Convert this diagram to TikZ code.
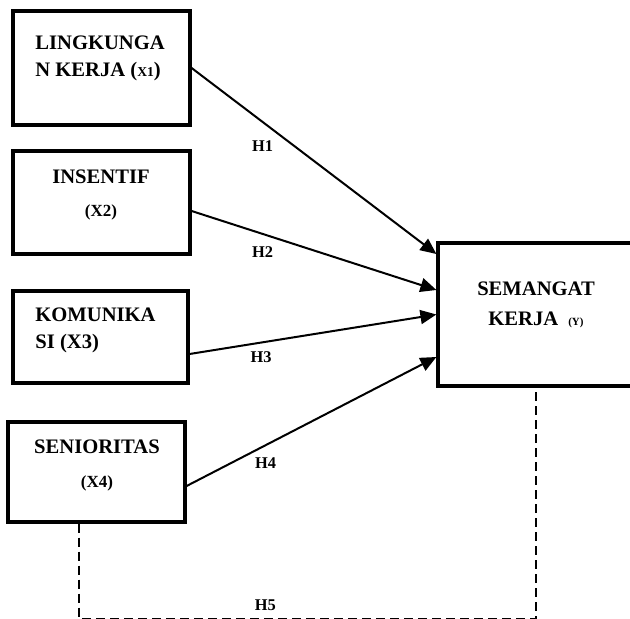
\documentclass[tikz,border=0pt]{standalone}
\usepackage{fontspec}
\setmainfont{Liberation Serif}
\usetikzlibrary{arrows.meta}

\tikzset{
  varbox/.style={draw, line width=1.6pt, inner sep=0pt},
  varname/.style={font=\fontsize{10.3}{13.5}\selectfont\bfseries, inner sep=0pt},
  varcode/.style={font=\fontsize{8.5}{10}\selectfont\bfseries, inner sep=0pt},
  hyp/.style={line width=1pt, -{Triangle[length=8pt,width=7pt]}},
  hyplabel/.style={font=\fontsize{8.2}{10}\selectfont\bfseries, inner sep=0pt},
  dashline/.style={line width=1pt, dash pattern=on 4.5pt off 2.5pt},
}

\begin{document}
\begin{tikzpicture}[x=0.5pt, y=-0.5pt]
	\useasboundingbox (0,0) rectangle (630,619);
	
	% Independent variables
	\node[varbox, minimum width=88.5pt, minimum height=57pt] (lin) at (101.5,68) {};
	\node[varbox, minimum width=88.5pt, minimum height=51.5pt] (ins) at (101.5,202.5) {};
	\node[varbox, minimum width=87.5pt, minimum height=46pt] (kom) at (100.5,337) {};
	\node[varbox, minimum width=88.5pt, minimum height=50pt] (sen) at (96.5,472) {};
	
	% Dependent variable
	\node[varbox, minimum width=98pt, minimum height=71.5pt] (sem) at (536,314.5) {};
	
	% Box texts (base = last line)
	\node[varname, anchor=base west, align=left] at (35,77) {LINGKUNGA\\N KERJA ({\fontsize{6.8}{8}\selectfont X1})};
	\node[varname, anchor=base] at (101,184) {INSENTIF};
	\node[varcode, anchor=base] at (101,217) {(X2)};
	\node[varname, anchor=base west, align=left] at (35,349) {KOMUNIKA\\SI (X3)};
	\node[varname, anchor=base] at (97,453) {SENIORITAS};
	\node[varcode, anchor=base] at (97,487) {(X4)};
	\node[varname, anchor=base, align=center] at (536,326) {SEMANGAT\\[1.5pt]KERJA\hspace{5pt}{\fontsize{5.5}{6}\selectfont(Y)}};
	
	% Hypotheses
	\draw[hyp] (lin.east) -- node[hyplabel, pos=0.29, yshift=-12pt] {H1} ([yshift=30.25pt]sem.west);
	\draw[hyp] ([yshift=-4.25pt]ins.east) -- node[hyplabel, pos=0.29, yshift=-9pt] {H2} ([yshift=12.25pt]sem.west);
	\draw[hyp] ([yshift=-8.5pt]kom.east) -- node[hyplabel, pos=0.29, yshift=-7.5pt] {H3} (sem.west);
	\draw[hyp] ([yshift=-7pt]sen.east) -- node[hyplabel, pos=0.316, yshift=-9pt] {H4} ([yshift=-21.25pt]sem.west);
	
	% Simultaneous effect
	\draw[dashline] ([xshift=-8.75pt]sen.south) -- ++(0,95) -| node[hyplabel, pos=0.204, yshift=6.5pt] {H5} (sem.south);
\end{tikzpicture}
\end{document}
